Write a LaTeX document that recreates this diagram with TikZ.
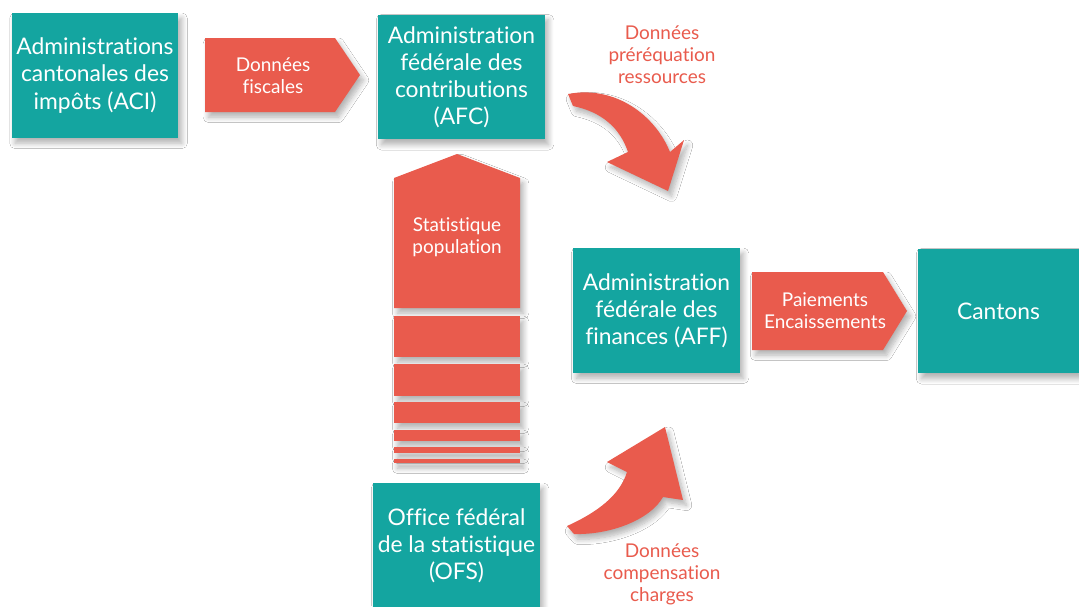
\documentclass[tikz,border=0pt]{standalone}
\usepackage{fontspec}
\setmainfont{Lato}[Ligatures=NoCommon]
\usetikzlibrary{shadows.blur}
\definecolor{teal1}{RGB}{20,165,160}
\definecolor{rouge}{RGB}{233,91,77}
\begin{document}
\begin{tikzpicture}[x=0.02cm, y=-0.02cm,
    ombre/.style={blur shadow={shadow xshift=2pt, shadow yshift=-3pt, shadow blur radius=3pt, shadow blur steps=8, shadow opacity=30}},
    office/.style={fill=teal1, ombre, text=white, align=center, minimum width=3.34cm, minimum height=2.5cm, inner sep=0pt, font=\fontsize{13}{15.4}\selectfont},
    fleche/.style={fill=rouge, ombre},
    flux/.style={text=white, align=center, font=\fontsize{10.8}{12.6}\selectfont},
    donnees/.style={text=rouge, align=center, font=\fontsize{10.8}{12.6}\selectfont}]
    \clip (0,0) rectangle (1079,606);
    \fill[white] (0,0) rectangle (1079,606);

    % offices
    \node[office] (aci) at (95,75.5) {Administrations\\cantonales des\\impôts (ACI)};
    \node[office] (afc) at (461.5,77) {Administration\\fédérale des\\contributions\\(AFC)};
    \node[office] (aff) at (656.5,310.5) {Administration\\fédérale des\\finances (AFF)};
    \node[office, minimum width=3.22cm] (cantons) at (998.5,311) {Cantons};
    \node[office] (ofs) at (456.5,545.5) {Office fédéral\\de la statistique\\(OFS)};

    % fleches droites
    \fill[fleche] (205,38) -- (335,38) -- (360,75) -- (335,112) -- (205,112) -- cycle;
    \node[flux] (fiscales) at (273,76) {Données\\fiscales};
    \fill[fleche] (752,272) -- (883,272) -- (907,311) -- (883,350) -- (752,350) -- cycle;
    \node[flux] (paiements) at (825,311) {Paiements\\Encaissements};

    % colonne population
    \fill[fleche] (394,308) -- (394,178) -- (457,154) -- (520,178) -- (520,308) -- cycle;
    \foreach \ya/\yb in {316/357, 364/396, 402/423, 430/441, 447/453, 459/463}
        \fill[fleche] (394,\ya) rectangle (520,\yb);
    \node[flux] (population) at (457,237) {Statistique\\population};

    % fleches courbes
    \fill[fleche] (568,94) .. controls (615,85) and (655,115) .. (670,152) -- (684,140) -- (668,191)
        -- (607,162) -- (628,152) .. controls (620,128) and (602,112) .. (573,106) -- cycle;
    \node[donnees] (ressources) at (662,55) {Données\\préréquation\\ressources};
    \fill[fleche] (567,526) .. controls (598,512) and (620,495) .. (627,472) -- (607,462) -- (665,427)
        -- (683,500) -- (663,497) .. controls (650,520) and (610,535) .. (574,534) -- cycle;
    \node[donnees] (charges) at (662,574) {Données\\compensation\\charges};
\end{tikzpicture}
\end{document}
